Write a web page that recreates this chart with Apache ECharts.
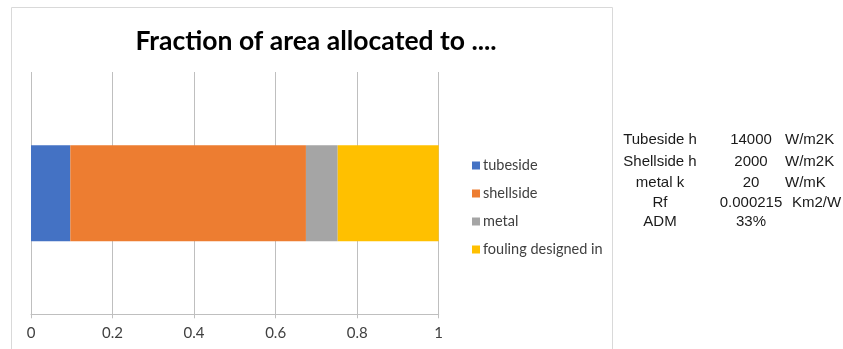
<!DOCTYPE html>
<html><head><meta charset="utf-8">
<script src="https://cdn.jsdelivr.net/npm/echarts@6/dist/echarts.min.js"></script>
<style>html,body{margin:0;padding:0;background:#fff}#c{width:843px;height:349px}</style>
</head><body><div id="c"></div>
<script>
const categories = ['area'];
const seriesNames = ['tubeside', 'shellside', 'metal', 'fouling designed in'];
const tubeside = [0.0964];
const shellside = [0.578];
const metal = [0.0779];
const fouling = [0.2477];
const colors = ['#4472C4', '#ED7D31', '#A5A5A5', '#FFC000'];
const xTicks = [0, 0.2, 0.4, 0.6, 0.8, 1];
const tableRows = [
  ['Tubeside h', '14000', 'W/m2K'],
  ['Shellside h', '2000', 'W/m2K'],
  ['metal k', '20', 'W/mK'],
  ['Rf', '0.000215', 'Km2/W'],
  ['ADM', '33%', '']
];
const values = [tubeside, shellside, metal, fouling];

const chart = echarts.init(document.getElementById('c'));
const tableGraphics = [];
const rowY = [140, 162, 183, 203, 222];
tableRows.forEach((r, i) => {
  const base = {fontFamily: 'Liberation Sans, Arial', fontSize: 15, fill: '#1a1a1a', verticalAlign: 'middle'};
  tableGraphics.push({type: 'text', x: 660, y: rowY[i], style: Object.assign({text: r[0], align: 'center'}, base)});
  tableGraphics.push({type: 'text', x: 751, y: rowY[i], style: Object.assign({text: r[1], align: 'center'}, base)});
  if (r[2]) tableGraphics.push({type: 'text', x: i === 3 ? 792 : 785, y: rowY[i], style: Object.assign({text: r[2], align: 'left'}, base)});
});

chart.setOption({
  animation: false,
  color: colors,
  title: {
    text: 'Fraction of area allocated to ....',
    left: 311, top: 23, textAlign: 'center',
    textStyle: {fontFamily: 'Lato', fontWeight: 'bold', fontSize: 26.5, color: '#000'}
  },
  legend: {
    orient: 'vertical', left: 467, top: 153,
    itemWidth: 8, itemHeight: 8, itemGap: 13,
    icon: 'rect',
    textStyle: {fontFamily: 'Lato', fontSize: 14.5, color: '#404040', padding: [0, 0, 0, -2]},
    data: seriesNames
  },
  grid: {left: 31, right: 843 - 438.7, top: 72, bottom: 349 - 314.3, containLabel: false},
  xAxis: {
    type: 'value', min: 0, max: 1, interval: 0.2,
    axisLine: {show: true, lineStyle: {color: '#BFBFBF', width: 1}},
    axisTick: {show: true, length: 4, lineStyle: {color: '#BFBFBF'}},
    splitLine: {show: true, lineStyle: {color: '#BFBFBF', width: 1}},
    axisLabel: {
      fontFamily: 'Lato', fontSize: 15, color: '#404040', margin: 11,
      formatter: v => xTicks.includes(Math.round(v * 10) / 10) ? String(Math.round(v * 10) / 10) : ''
    }
  },
  yAxis: {
    type: 'category', data: categories,
    axisLine: {show: false}, axisTick: {show: false}, axisLabel: {show: false}
  },
  series: seriesNames.map((n, i) => ({
    name: n, type: 'bar', stack: 'total', data: values[i], barWidth: 96,
    itemStyle: {color: colors[i]}
  })),
  graphic: [
    {type: 'rect', shape: {x: 11.5, y: 7.5, width: 601, height: 360}, style: {fill: 'none', stroke: '#D9D9D9', lineWidth: 1}, silent: true, z: -10}
  ].concat(tableGraphics)
});
</script></body></html>
